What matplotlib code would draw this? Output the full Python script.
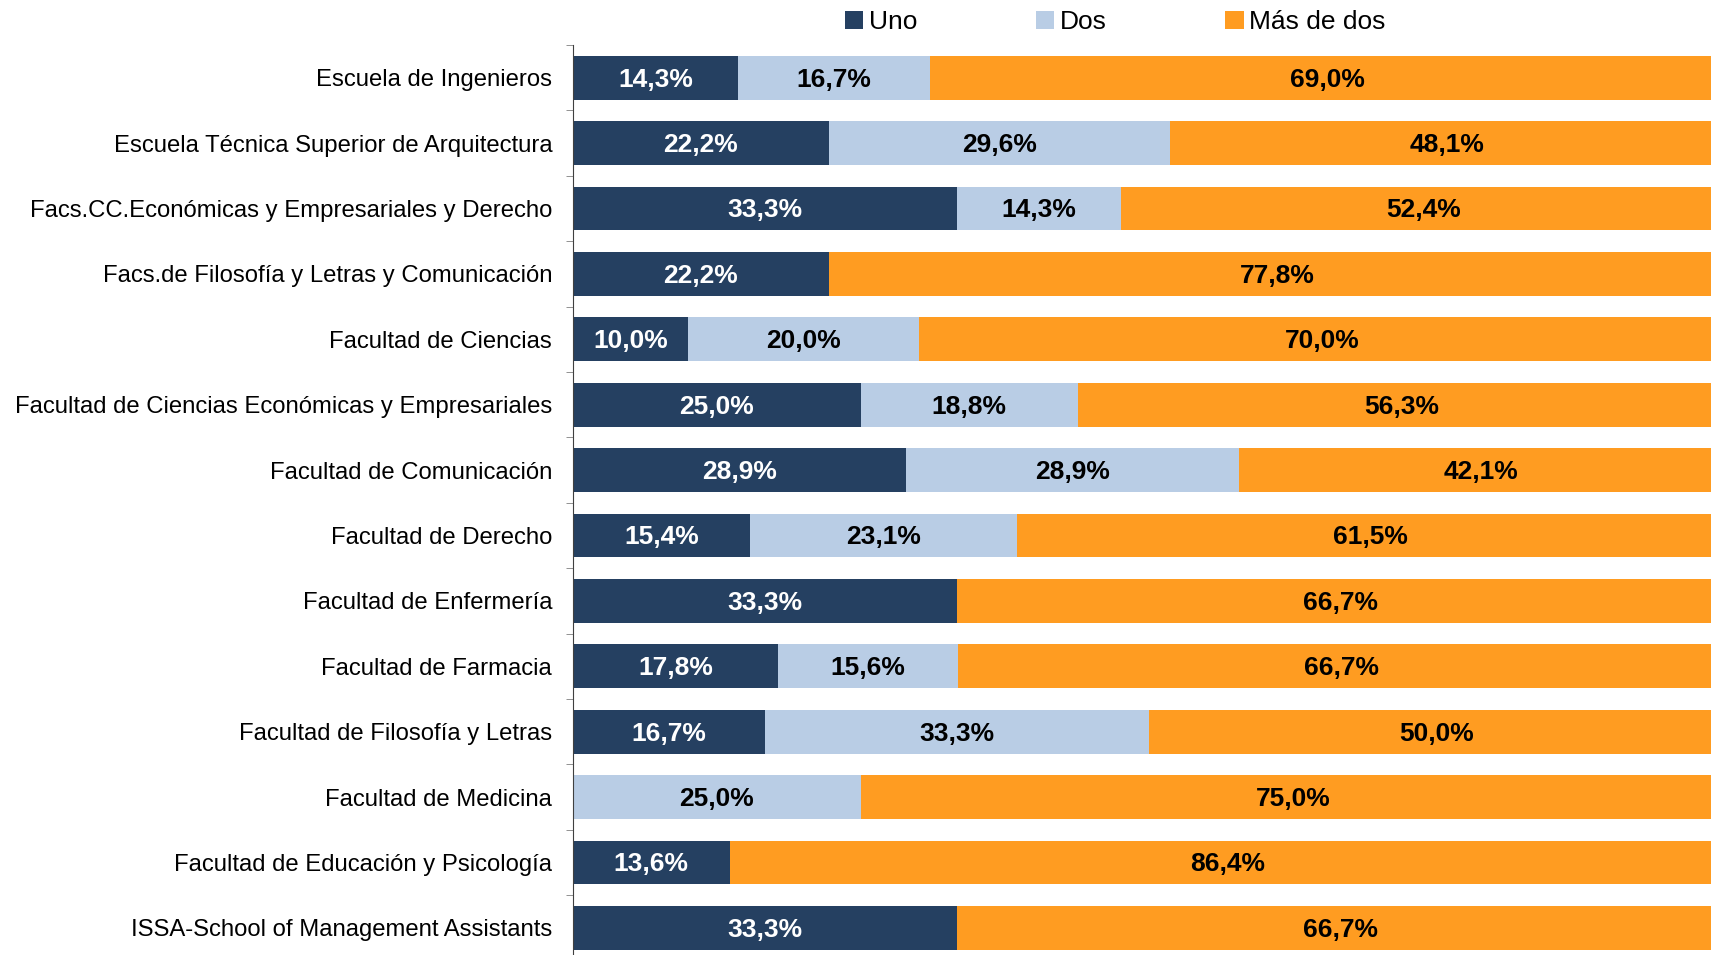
import numpy as np
import matplotlib.pyplot as plt
from matplotlib.ticker import FixedLocator

plt.rcParams['font.family'] = ['Liberation Sans', 'DejaVu Sans']

centros = [
    "Escuela de Ingenieros",
    "Escuela Técnica Superior de Arquitectura",
    "Facs.CC.Económicas y Empresariales y Derecho",
    "Facs.de Filosofía y Letras y Comunicación",
    "Facultad de Ciencias",
    "Facultad de Ciencias Económicas y Empresariales",
    "Facultad de Comunicación",
    "Facultad de Derecho",
    "Facultad de Enfermería",
    "Facultad de Farmacia",
    "Facultad de Filosofía y Letras",
    "Facultad de Medicina",
    "Facultad de Educación y Psicología",
    "ISSA-School of Management Assistants",
]
uno = [14.3, 22.2, 33.3, 22.2, 10.0, 25.0, 28.9, 15.4, 33.3, 17.8, 16.7, 0.0, 13.6, 33.3]
dos = [16.7, 29.6, 14.3, 0.0, 20.0, 18.8, 28.9, 23.1, 0.0, 15.6, 33.3, 25.0, 0.0, 0.0]
mas_de_dos = [69.0, 48.1, 52.4, 77.8, 70.0, 56.3, 42.1, 61.5, 66.7, 66.7, 50.0, 75.0, 86.4, 66.7]

series = [("Uno", uno, "#254061", "white"),
          ("Dos", dos, "#B9CDE5", "black"),
          ("Más de dos", mas_de_dos, "#FF9C21", "black")]

W, H = 1711, 955
fig = plt.figure(figsize=(W / 100, H / 100), dpi=100)
# axes runs slightly past the right and bottom edges, as in the reference crop
left, right = 573 / W, 1725 / W
top, bottom = 1 - 45 / H, 1 - 960.6 / H
ax = fig.add_axes([left, bottom, right - left, top - bottom])

y = np.arange(len(centros))
base = np.zeros(len(centros))
for name, vals, color, tcolor in series:
    vals = np.array(vals)
    ax.barh(y, vals, left=base, height=0.67, color=color, label=name)
    for yi, b, v in zip(y, base, vals):
        if v > 0:
            ax.text(b + v / 2, yi + 0.03, f"{v:.1f}%".replace(".", ","), ha="center", va="center",
                    color=tcolor, fontsize=19, fontweight="bold")
    base += vals

ax.set_xlim(0, 100)
ax.set_ylim(len(centros) - 0.5, -0.5)
ax.set_yticks(y)
ax.set_yticklabels(centros, fontsize=17.2)
ax.yaxis.set_minor_locator(FixedLocator(np.arange(-0.5, len(centros), 1)))
ax.tick_params(axis="y", which="major", length=0, pad=15)
ax.tick_params(axis="y", which="minor", length=5, color="#808080")
ax.set_xticks([])
for s in ["top", "right", "bottom"]:
    ax.spines[s].set_visible(False)
ax.spines["left"].set_color("#404040")

fig.legend(loc="center", bbox_to_anchor=(1115 / W, 1 - 22 / H), ncol=3, frameon=False,
           fontsize=19, handlelength=0.7, handleheight=0.7, handletextpad=0.2,
           columnspacing=4.5, borderaxespad=0)

fig.savefig("out.png", dpi=100)
